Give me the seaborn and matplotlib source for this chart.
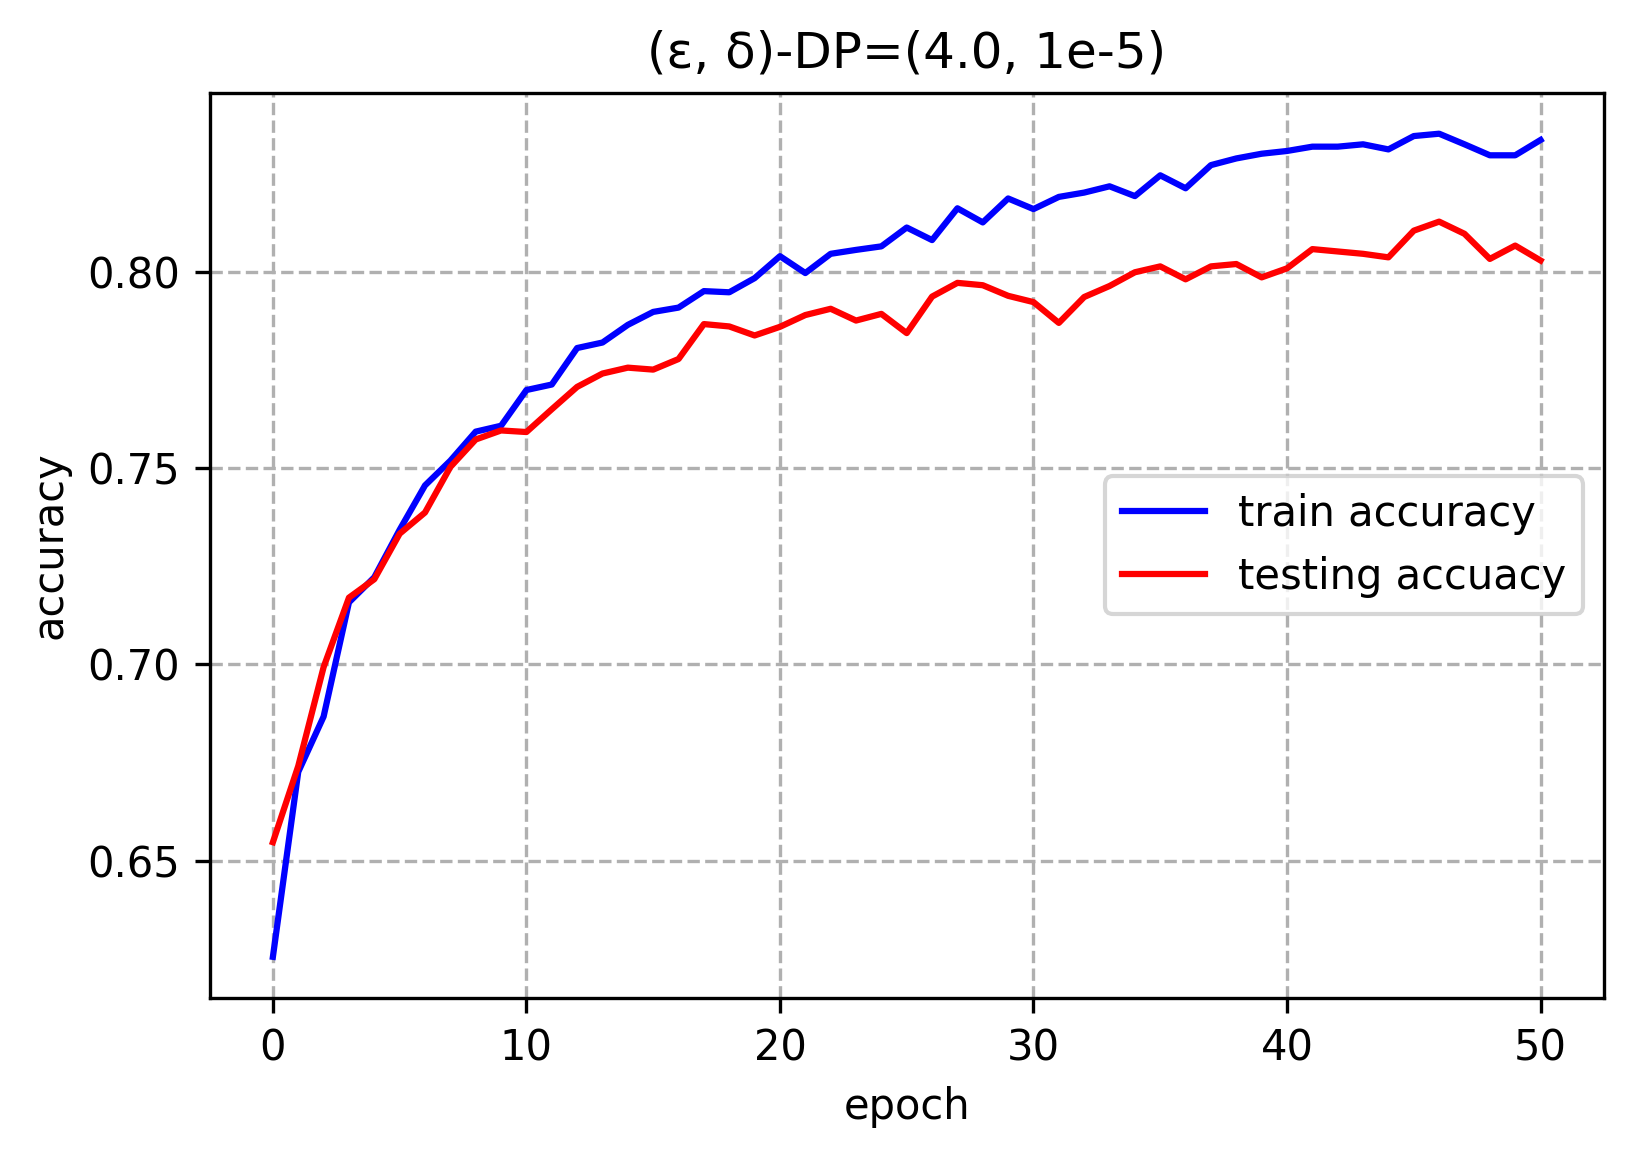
import seaborn as sns
import matplotlib.pyplot as plt

# Values
epochs = list(range(51))
train_acc = [0.6255, 0.6726, 0.6867, 0.7158, 0.7222, 0.7343, 0.7456, 0.7519, 0.7593, 0.7608,
             0.7699, 0.7713, 0.7806, 0.7820, 0.7865, 0.7898, 0.7909, 0.7951, 0.7948, 0.7984,
             0.8040, 0.7997, 0.8046, 0.8056, 0.8065, 0.8113, 0.8081, 0.8162, 0.8126, 0.8187,
             0.8160, 0.8191, 0.8202, 0.8218, 0.8193, 0.8246, 0.8213, 0.8272, 0.8289, 0.8301,
             0.8308, 0.8319, 0.8319, 0.8325, 0.8312, 0.8346, 0.8352, 0.8325, 0.8297, 0.8297,
             0.8336]
test_acc = [0.6547, 0.6741, 0.6993, 0.7170, 0.7217, 0.7333, 0.7387, 0.7503, 0.7573, 0.7596,
            0.7592, 0.7650, 0.7707, 0.7741, 0.7756, 0.7751, 0.7778, 0.7867, 0.7861, 0.7838,
            0.7860, 0.7890, 0.7906, 0.7876, 0.7893, 0.7844, 0.7937, 0.7972, 0.7966, 0.7939,
            0.7923, 0.7870, 0.7936, 0.7964, 0.7999, 0.8014, 0.7981, 0.8014, 0.8020, 0.7986,
            0.8009, 0.8058, 0.8052, 0.8046, 0.8037, 0.8105, 0.8128, 0.8097, 0.8033, 0.8067,
            0.8029]

fig, ax = plt.subplots(figsize=(1633 / 300, 1154 / 300), dpi=300)
fig.subplots_adjust(left=0.1283, right=0.9822, top=0.9198, bottom=0.1352)

sns.lineplot(x=epochs, y=train_acc, color='blue', label='train accuracy', ax=ax)
sns.lineplot(x=epochs, y=test_acc, color='red', label='testing accuacy', ax=ax)

ax.grid(True, linestyle='--')
ax.set_xlabel('epoch')
ax.set_ylabel('accuracy')
ax.set_title('(ε, δ)-DP=(4.0, 1e-5)')
ax.legend(loc='center right')

plt.savefig('out.png', dpi=300)
